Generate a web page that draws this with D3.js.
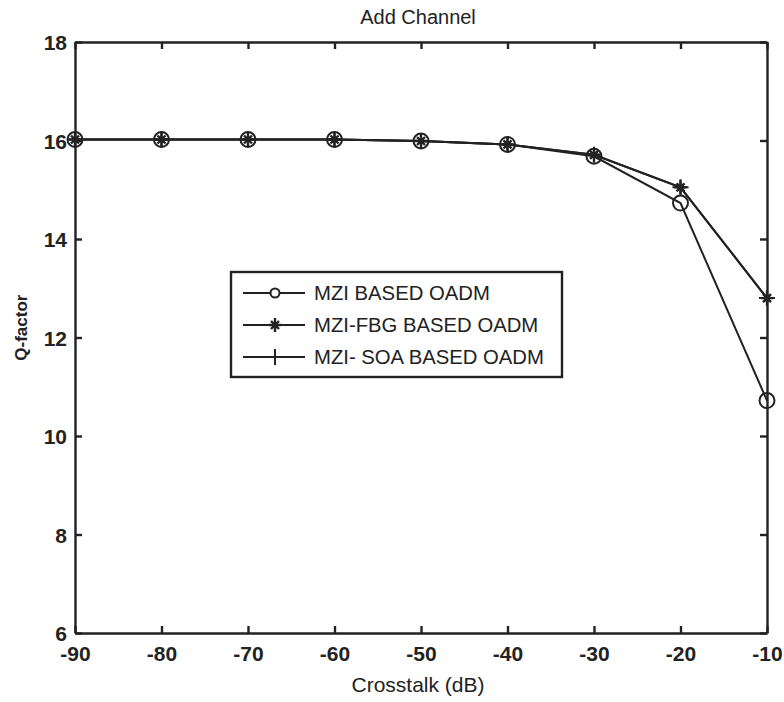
<!DOCTYPE html>
<meta charset="utf-8">
<script src="https://d3js.org/d3.v7.min.js"></script>
<style>
  body { margin: 0; background: #fff; }
  text { font-family: "Liberation Sans", Arial, sans-serif; fill: #222; }
</style>
<div id="my_dataviz"></div>
<script>

  // data
  var crosstalk = [-90, -80, -70, -60, -50, -40, -30, -20, -10];
  var mziQ    = [16.02, 16.02, 16.02, 16.02, 15.99, 15.92, 15.68, 14.73, 10.72];
  var mziFbgQ = [16.02, 16.02, 16.02, 16.02, 15.99, 15.92, 15.71, 15.05, 12.80];
  var mziSoaQ = [16.02, 16.02, 16.02, 16.02, 15.99, 15.92, 15.71, 15.05, 12.80];
  var seriesNames = ["MZI BASED OADM", "MZI-FBG BASED OADM", "MZI- SOA BASED OADM"];
  var xTicks = [-90, -80, -70, -60, -50, -40, -30, -20, -10];
  var yTicks = [6, 8, 10, 12, 14, 16, 18];

  var margin = {top: 42, right: 17, bottom: 69, left: 75},
    width = 784 - margin.left - margin.right,
    height = 702 - margin.top - margin.bottom;

  var svg = d3.select("#my_dataviz")
    .append("svg")
      .attr("width", 784)
      .attr("height", 702)
    .append("g")
      .attr("transform", "translate(" + margin.left + "," + margin.top + ")");

  var x = d3.scaleLinear().domain([-90, -10]).range([0, width]);
  var y = d3.scaleLinear().domain([6, 18]).range([height, 0]);

  var ink = "#222";
  var plain = function(d) { return String(d); };

  // axes, ticks pointing inward (matlab style)
  var axBottom = svg.append("g")
    .attr("transform", "translate(0," + height + ")")
    .call(d3.axisBottom(x).tickValues(xTicks).tickFormat(plain).tickSizeInner(-7).tickSizeOuter(0).tickPadding(12));
  var axLeft = svg.append("g")
    .call(d3.axisLeft(y).tickValues(yTicks).tickFormat(plain).tickSizeInner(-7).tickSizeOuter(0).tickPadding(8));
  var axTop = svg.append("g")
    .call(d3.axisTop(x).tickValues(xTicks).tickSizeInner(-7).tickSizeOuter(0).tickFormat(""));
  var axRight = svg.append("g")
    .attr("transform", "translate(" + width + ",0)")
    .call(d3.axisRight(y).tickValues(yTicks).tickSizeInner(-7).tickSizeOuter(0).tickFormat(""));

  [axBottom, axLeft, axTop, axRight].forEach(function(a) {
    a.selectAll("path, line").attr("stroke", ink).attr("stroke-width", 2.4);
    a.selectAll("text").style("font-size", "21px").style("font-weight", "bold").attr("fill", ink);
  });
  axBottom.selectAll("text").attr("dy", "0.78em");
  axLeft.selectAll("text").attr("dy", "0.36em");

  // lines
  var seriesData = [mziQ, mziFbgQ, mziSoaQ];
  var line = d3.line()
    .x(function(d, i) { return x(crosstalk[i]); })
    .y(function(d) { return y(d); });

  seriesData.forEach(function(vals) {
    svg.append("path")
      .datum(vals)
      .attr("fill", "none")
      .attr("stroke", ink)
      .attr("stroke-width", 2)
      .attr("d", line);
  });

  // markers
  function marker(g, kind) {
    if (kind === 0) {
      g.append("circle").attr("r", 7.5).attr("fill", "none").attr("stroke", ink).attr("stroke-width", 2);
    } else if (kind === 1) {
      g.append("path").attr("d", "M-6,0H6M0,-7V7M-4,-4L4,4M-4,4L4,-4")
        .attr("stroke", ink).attr("stroke-width", 2.4);
    } else {
      g.append("path").attr("d", "M-8,0H8M0,-8V8")
        .attr("stroke", ink).attr("stroke-width", 2);
    }
  }
  seriesData.forEach(function(vals, k) {
    vals.forEach(function(v, i) {
      var g = svg.append("g").attr("transform", "translate(" + x(crosstalk[i]) + "," + y(v) + ")");
      marker(g, k);
    });
  });

  // legend
  var legend = svg.append("g").attr("transform", "translate(" + (231 - margin.left) + "," + (272 - margin.top) + ")");
  legend.append("rect")
    .attr("width", 331).attr("height", 105)
    .attr("fill", "#fff").attr("stroke", ink).attr("stroke-width", 2.4);
  seriesNames.forEach(function(name, k) {
    var ly = 21 + k * 32;
    legend.append("line").attr("x1", 12).attr("x2", 74).attr("y1", ly).attr("y2", ly)
      .attr("stroke", ink).attr("stroke-width", 2);
    var g = legend.append("g").attr("transform", "translate(44," + ly + ")");
    if (k === 0) {
      g.append("circle").attr("r", 4.5).attr("fill", "#fff").attr("stroke", ink).attr("stroke-width", 2);
    } else {
      marker(g, k);
    }
    legend.append("text").attr("x", 83).attr("y", ly).attr("dy", "0.36em")
      .style("font-size", "20.3px").text(name);
  });

  // title and labels
  svg.append("text")
    .attr("x", 418 - margin.left).attr("y", -18)
    .attr("text-anchor", "middle")
    .style("font-size", "20px")
    .text("Add Channel");

  svg.append("text")
    .attr("x", 418 - margin.left).attr("y", height + 59)
    .attr("text-anchor", "middle")
    .style("font-size", "21px")
    .text("Crosstalk (dB)");

  svg.append("text")
    .attr("transform", "translate(-48," + y(12.2) + ") rotate(-90)")
    .attr("text-anchor", "middle")
    .style("font-size", "17px")
    .style("font-weight", "bold")
    .text("Q-factor");

</script>
